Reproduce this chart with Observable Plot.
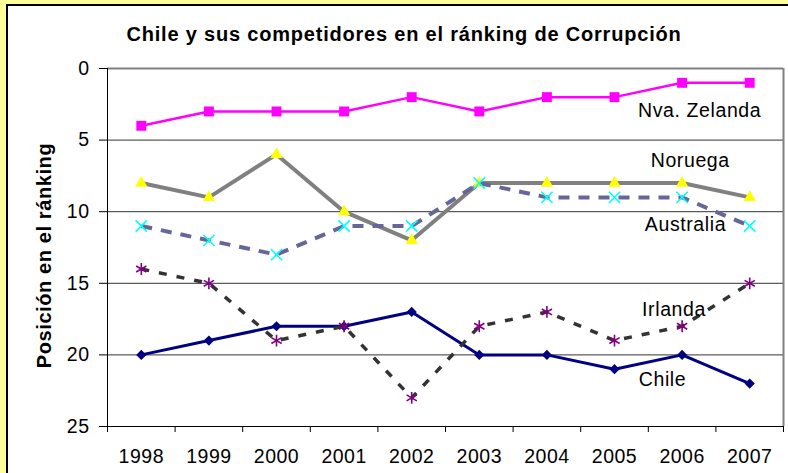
<!DOCTYPE html>
<html>
<head>
<meta charset="utf-8">
<script src="https://cdn.jsdelivr.net/npm/d3@7"></script>
<script src="https://cdn.jsdelivr.net/npm/@observablehq/plot@0.6"></script>
<style>
  html, body { margin: 0; padding: 0; }
  body { background: #FFFF99; width: 788px; height: 473px; overflow: hidden; position: relative; font-family: 'Liberation Sans', Arial, sans-serif; }
  #frame { position: absolute; left: 6px; top: 4px; width: 820px; height: 500px; background: #fff; border-top: 2px solid #000; border-left: 2px solid #000; }
  #title { position: absolute; left: 0; top: 22px; width: 808px; text-align: center; font-weight: bold; font-size: 20px; letter-spacing: 0.8px; line-height: 24px; color: #000; }
  #chart { position: absolute; left: 0; top: 50px; }
</style>
</head>
<body>
<div id="frame"></div>
<div id="title">Chile y sus competidores en el ránking de Corrupción</div>
<div id="chart"></div>
<script>
// ---- data ----
const years = [1998, 1999, 2000, 2001, 2002, 2003, 2004, 2005, 2006, 2007];
const nzVals        = [4, 3, 3, 3, 2, 3, 2, 2, 1, 1];
const noruegaVals   = [8, 9, 6, 10, 12, 8, 8, 8, 8, 9];
const australiaVals = [11, 12, 13, 11, 11, 8, 9, 9, 9, 11];
const irlandaVals   = [14, 15, 19, 18, 23, 18, 17, 19, 18, 15];
const chileVals     = [20, 19, 18, 18, 17, 20, 20, 21, 20, 22];
const seriesNames = ["Chile", "Nva. Zelanda", "Noruega", "Australia", "Irlanda"];
const yTicks = [0, 5, 10, 15, 20, 25];
const yAxisTitle = "Posición en el ránking";

// ---- build tables ----
const valuesByName = {
  "Chile": chileVals,
  "Nva. Zelanda": nzVals,
  "Noruega": noruegaVals,
  "Australia": australiaVals,
  "Irlanda": irlandaVals
};
const rows = name => years.map((year, i) => ({year, value: valuesByName[name][i]}));

// ---- styles ----
const styles = {
  "Chile":        {stroke: "#000080", width: 3,   dash: null,   symbol: "diamond2", fill: "#000080", mstroke: "none",    r: 4.6},
  "Nva. Zelanda": {stroke: "#FF00FF", width: 2.5, dash: null,   symbol: "square",   fill: "#FF00FF", mstroke: "none",    r: 5.6},
  "Noruega":      {stroke: "#808080", width: 4,   dash: null,   symbol: "triangle", fill: "#FFFF00", mstroke: "none",    r: 4.6},
  "Australia":    {stroke: "#666699", width: 4,   dash: "11,9", symbol: "times",    fill: "none",    mstroke: "#00FFFF", r: 5.2},
  "Irlanda":      {stroke: "#333333", width: 3.5, dash: "8,10", symbol: "asterisk", fill: "none",    mstroke: "#800080", r: 5.6}
};

// annotation placement (data units)
const labelPos = [
  {name: "Nva. Zelanda", x: 2006.26, y: 2.93},
  {name: "Noruega",      x: 2006.12, y: 6.42},
  {name: "Australia",    x: 2006.05, y: 10.9},
  {name: "Irlanda",      x: 2005.88, y: 16.83},
  {name: "Chile",        x: 2005.71, y: 21.72}
];

const xMin = years[0] - 0.5, xMax = years[years.length - 1] + 0.5;
const boundaries = d3.range(xMin, xMax + 0.01, 1);

const seriesMarks = [];
for (const name of seriesNames) {
  const s = styles[name];
  const data = rows(name);
  seriesMarks.push(Plot.line(data, {
    x: "year", y: "value", stroke: s.stroke, strokeWidth: s.width,
    strokeDasharray: s.dash || undefined, strokeLinejoin: "round", strokeLinecap: "butt"
  }));
  seriesMarks.push(Plot.dot(data, {
    x: "year", y: "value", symbol: () => s.symbol, r: s.r,
    fill: s.fill, stroke: s.mstroke, strokeWidth: s.mstroke === "none" ? 0 : 1.6
  }));
}

const chart = Plot.plot({
  width: 788,
  height: 423,
  marginTop: 18,
  marginBottom: 47,
  marginLeft: 107,
  marginRight: 5,
  x: {domain: [xMin, xMax]},
  y: {domain: [0, 25], reverse: true},
  symbol: {type: "identity"},
  style: {background: "transparent", fontFamily: "'Liberation Sans', Arial, sans-serif", fontSize: "19.5px", color: "#000", overflow: "visible"},
  marks: [
    Plot.ruleY([5, 10, 15, 20], {stroke: "#333", strokeWidth: 1}),
    Plot.ruleY([0], {stroke: "#808080", strokeWidth: 2}),
    Plot.ruleX([xMax], {stroke: "#808080", strokeWidth: 2}),
    Plot.ruleX([xMin], {stroke: "#000", strokeWidth: 1}),
    Plot.ruleY([25], {stroke: "#000", strokeWidth: 1}),
    Plot.axisY(yTicks, {tickSize: 8, tickPadding: 10, label: null, stroke: "#000"}),
    Plot.axisX(years, {tickSize: 0, tickPadding: 23, tickFormat: d => String(d), label: null}),
    Plot.axisX(boundaries, {tickSize: 6, tickFormat: () => "", label: null, stroke: "#000"}),
    ...seriesMarks,
    Plot.text(labelPos, {x: "x", y: "y", text: "name", fontSize: 19.5, textAnchor: "middle", fill: "#000"}),
    Plot.text([yAxisTitle], {frameAnchor: "left", dx: -63, dy: 8, rotate: -90, textAnchor: "middle", fontSize: 20, fontWeight: "bold", fill: "#000"})
  ]
});
d3.select(chart).selectAll("g[aria-label='text'] text").style("letter-spacing", "0.6px");
d3.select(chart).selectAll("g[aria-label='x-axis tick label'] text, g[aria-label='y-axis tick label'] text").style("letter-spacing", "0.5px");
document.getElementById("chart").appendChild(chart);
</script>
</body>
</html>
